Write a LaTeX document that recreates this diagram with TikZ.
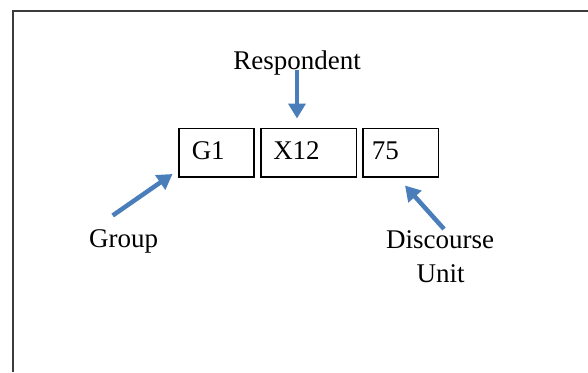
\documentclass[tikz,border=0pt]{standalone}
\usepackage{fontspec}
\setmainfont{Liberation Serif}
\usetikzlibrary{arrows.meta,calc}
\definecolor{arrowblue}{RGB}{74,126,187}
\definecolor{framegray}{RGB}{60,60,60}
\begin{document}
\begin{tikzpicture}[x=1pt,y=-1pt,
  lbl/.style={font=\fontsize{27}{34}\selectfont,inner sep=0pt,anchor=base},
  cell/.style={draw=black,line width=1.5pt,font=\fontsize{27}{34}\selectfont,
    anchor=north west,inner ysep=0pt,text height=31.5pt,text depth=17pt,align=left},
  arr/.style={draw=arrowblue,line width=4.5pt,-{Triangle[width=17pt,length=15pt]}}]
\useasboundingbox (0,0) rectangle (588,372);
\fill[white] (0,0) rectangle (588,372);
\draw[framegray,line width=1.5pt] (13,372) -- (13,11) -- (588,11);
\node[cell,inner xsep=13pt,text width=49pt] (g1) at (178,127.5) {G1};
\node[cell,inner xsep=12.5pt,text width=70.5pt] (x12) at (260,127.5) {X12};
\node[cell,inner xsep=9pt,text width=57.5pt] (u75) at (362,127.5) {75};
\node[lbl] (resp) at (297,69.4) {Respondent};
\node[lbl] (grp) at (123.7,247.5) {Group};
\node[lbl] (disc) at (440,248) {Discourse};
\node[lbl] (unit) at (440.6,282) {Unit};
\coordinate (rtail) at ($(resp.base)+(0,1)$);
\coordinate (rtip) at ($(x12.north west)+(37,-9)$);
\coordinate (gtail) at ($(grp.base)+(-11,-32)$);
\coordinate (gtip) at ($(g1.south west)+(-5.5,-3.5)$);
\coordinate (dtail) at ($(disc.base)+(4,-19)$);
\coordinate (dtip) at ($(u75.south west)+(43,8)$);
\draw[arr] (rtail) -- (rtip);
\draw[arr] (gtail) -- (gtip);
\draw[arr] (dtail) -- (dtip);
\end{tikzpicture}
\end{document}
